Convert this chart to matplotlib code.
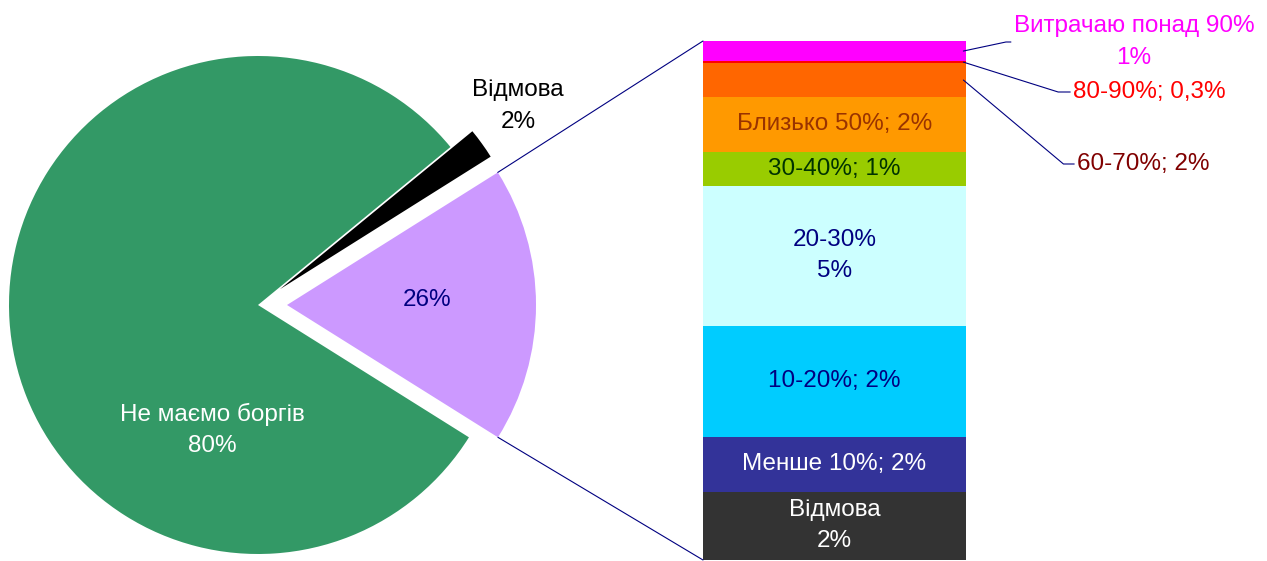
import numpy as np
import matplotlib.pyplot as plt
from matplotlib.patches import ConnectionPatch

plt.rcParams['font.family'] = ['Liberation Sans', 'DejaVu Sans']

W, H = 1267, 561

# pie: "other" slice, refusal, no debts
pie_vals_main = [2, 80]
pie_colors = ["#CC99FF", "#000000", "#339966"]

# bar of the "other" slice, bottom to top
bar_names = ["Відмова\n2%", "Менше 10%; 2%", "10-20%; 2%", "20-30%\n5%",
             "30-40%; 1%", "Близько 50%; 2%", "60-70%; 2%", "80-90%; 0,3%",
             "Витрачаю понад 90%\n1%"]
bar_vals = [2.34, 1.89, 3.81, 4.80, 1.17, 1.89, 1.16, 0.07, 0.69]
bar_colors = ["#333333", "#333399", "#00CCFF", "#CCFFFF", "#99CC00",
              "#FF9900", "#FF6600", "#FF0000", "#FF00FF"]
label_colors = ["white", "white", "#000080", "#000080", "#003300",
                "#993300", "#800000", "#FF0000", "#FF00FF"]

pie_vals = [sum(bar_vals)] + pie_vals_main

fig = plt.figure(figsize=(W / 100, H / 100), dpi=100)

ax1 = fig.add_axes([0, 0, 1, 1])
wedges, _ = ax1.pie(pie_vals, colors=pie_colors, startangle=-32.1,
                    explode=[29, 27, 0], center=(258, H - 305), radius=249,
                    wedgeprops=dict(linewidth=0))
ax1.set_xlim(0, W)
ax1.set_ylim(0, H)
ax1.axis('off')

fs = 17.5
ls = 1.53
ax1.text(212, H - 430, "Не маємо боргів\n80%", color="white", fontsize=fs,
         ha="center", va="center", linespacing=ls)
ax1.text(427, H - 300, "26%", color="#000080", fontsize=fs, ha="center", va="center")
ax1.text(518, H - 106, "Відмова\n2%", color="black", fontsize=fs,
         ha="center", va="center", linespacing=ls)

# bar
ax2 = fig.add_axes([703 / W, 1 / H, 263 / W, 519 / H])
bottoms = np.concatenate([[0], np.cumsum(bar_vals)[:-1]])
total = sum(bar_vals)
ax2.bar(0, bar_vals, bottom=bottoms, width=1, color=bar_colors, linewidth=0)
ax2.set_xlim(-0.5, 0.5)
ax2.set_ylim(0, total)
ax2.axis('off')

for i in range(6):
    ax2.text(0, bottoms[i] + bar_vals[i] / 2, bar_names[i], color=label_colors[i],
             fontsize=fs, ha="center", va="center", linespacing=ls)

# outside labels with leader lines
leaders = [(6, 1077, 164, "left", -40),
           (7, 1073, 92, "left", -17.5),
           (8, 1134, 42, "center", 12)]
for i, tx, ty, ha, ang in leaders:
    ax2.annotate(bar_names[i], xy=(0.49, bottoms[i] + bar_vals[i] / 2),
                 xycoords="data", xytext=(tx, H - ty), textcoords=ax1.transData,
                 color=label_colors[i], fontsize=fs, ha=ha, va="center",
                 linespacing=ls,
                 arrowprops=dict(arrowstyle="-", color="#000080", lw=0.8,
                                 shrinkA=0, shrinkB=0,
                                 connectionstyle=f"angle,angleA=0,angleB={ang},rad=0"))

# lines from the "other" slice to the bar
w = wedges[0]
cx, cy = w.center
for th, yb in [(w.theta2, total), (w.theta1, 0)]:
    pa = (cx + w.r * np.cos(np.radians(th)), cy + w.r * np.sin(np.radians(th)))
    con = ConnectionPatch(xyA=pa, coordsA="data", axesA=ax1,
                          xyB=(-0.5, yb), coordsB="data", axesB=ax2,
                          color="#000080", lw=0.8)
    fig.add_artist(con)

fig.savefig("out.png", dpi=100)
